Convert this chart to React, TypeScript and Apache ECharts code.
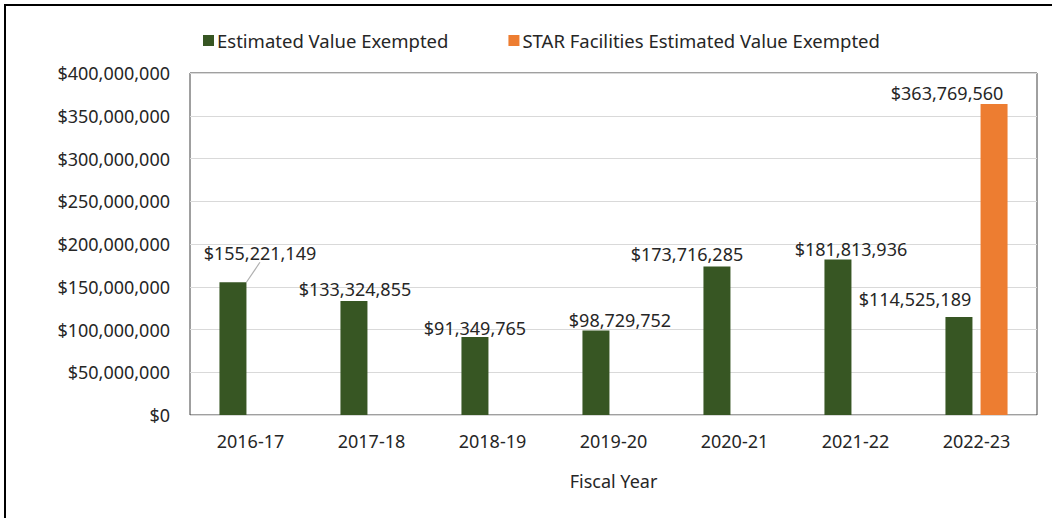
import React, { useEffect, useRef } from "react";
import * as echarts from "echarts";

const categories = ["2016-17", "2017-18", "2018-19", "2019-20", "2020-21", "2021-22", "2022-23"];
const estimatedValues = [155221149, 133324855, 91349765, 98729752, 173716285, 181813936, 114525189];
const starValues = [null, null, null, null, null, null, 363769560];
const yTicks = { min: 0, max: 400000000, interval: 50000000 };
const seriesNames = ["Estimated Value Exempted", "STAR Facilities Estimated Value Exempted"];

const greenOffsets: [number, number][] = [
  [27, -15], [1, 2], [0, 5], [24, 3], [-30, 2], [13, 3], [-44, -4],
];
const orangeOffsets: [number, number][] = [
  [0, 0], [0, 0], [0, 0], [0, 0], [0, 0], [0, 0], [-47, 3],
];

const FONT = "Noto Sans";
const fmt = (v: number) => "$" + Math.round(v).toLocaleString("en-US");

export default function App() {
  const ref = useRef<HTMLDivElement>(null);
  useEffect(() => {
    if (!ref.current) return;
    const chart = echarts.init(ref.current, null, { renderer: "svg" });
    const labelStyle = {
      show: true,
      position: "top" as const,
      distance: 5,
      color: "#262626",
      fontFamily: FONT,
      fontSize: 18,
      formatter: (p: any) => fmt(p.value),
    };
    chart.setOption({
      animation: false,
      backgroundColor: "#ffffff",
      textStyle: { fontFamily: FONT },
      graphic: [
        { type: "line", shape: { x1: 4, y1: 5, x2: 1052, y2: 5 }, style: { stroke: "#000", lineWidth: 2 } },
        { type: "line", shape: { x1: 5, y1: 4, x2: 5, y2: 518 }, style: { stroke: "#000", lineWidth: 2 } },
      ],
      legend: {
        top: 26,
        left: 198,
        itemWidth: 11,
        itemHeight: 11,
        itemGap: 60,
        icon: "rect",
        textStyle: { fontFamily: FONT, fontSize: 18.5, color: "#262626", padding: [0, 0, 0, -2] },
        data: seriesNames,
      },
      grid: {
        left: 190,
        right: 15,
        top: 73,
        bottom: 103,
        show: true,
        borderColor: "#404040",
        borderWidth: 1,
        containLabel: false,
      },
      xAxis: {
        type: "category",
        data: categories,
        name: "Fiscal Year",
        nameLocation: "middle",
        nameGap: 57,
        nameTextStyle: { fontFamily: FONT, fontSize: 18, color: "#262626" },
        axisLine: { show: false },
        axisTick: { show: false },
        axisLabel: { fontFamily: FONT, fontSize: 18, color: "#262626", margin: 17 },
      },
      yAxis: {
        type: "value",
        min: yTicks.min,
        max: yTicks.max,
        interval: yTicks.interval,
        axisLine: { show: false },
        axisTick: { show: false },
        splitLine: { lineStyle: { color: "#d9d9d9", width: 1 } },
        axisLabel: {
          fontFamily: FONT,
          fontSize: 18,
          color: "#262626",
          margin: 20,
          formatter: (v: number) => fmt(v),
        },
      },
      series: [
        {
          name: seriesNames[0],
          type: "bar",
          barWidth: 27,
          barGap: "30%",
          itemStyle: { color: "#375623" },
          label: labelStyle,
          labelLine: { show: false },
          labelLayout: (p: any) => ({ dx: greenOffsets[p.dataIndex][0], dy: greenOffsets[p.dataIndex][1] }),
          data: estimatedValues.map((v, i) =>
            i === 0
              ? { value: v, labelLine: { show: true, lineStyle: { color: "#b0b0b0", width: 1.2 } } }
              : { value: v }
          ),
        },
        {
          name: seriesNames[1],
          type: "bar",
          barWidth: 27,
          barGap: "30%",
          itemStyle: { color: "#ED7D31" },
          label: labelStyle,
          labelLayout: (p: any) => ({ dx: orangeOffsets[p.dataIndex][0], dy: orangeOffsets[p.dataIndex][1] }),
          data: starValues,
        },
      ],
    });
    return () => chart.dispose();
  }, []);
  return (
    <div
      ref={ref}
      style={{ position: "absolute", left: 0, top: 0, width: 1052, height: 518 }}
    />
  );
}
